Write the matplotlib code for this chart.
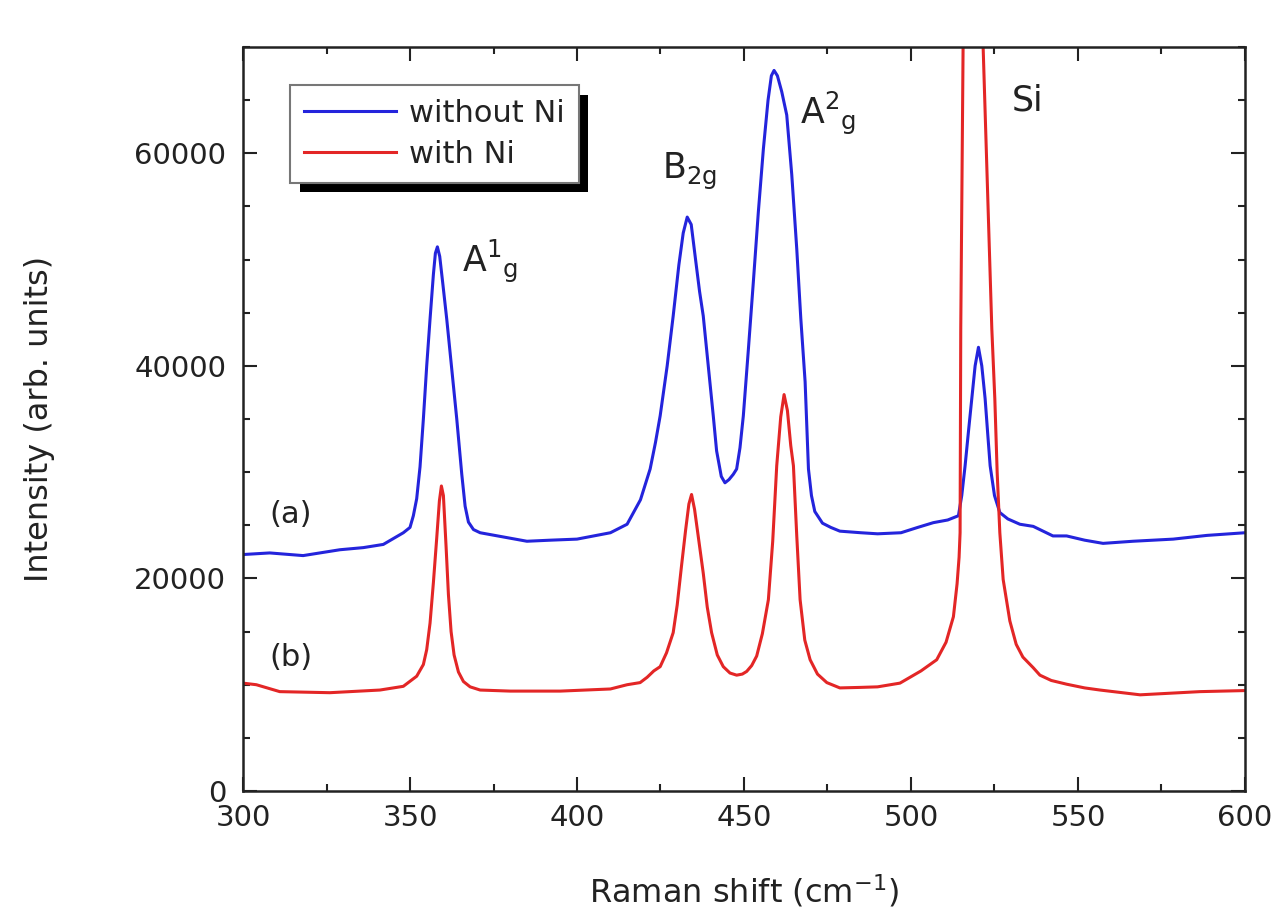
import matplotlib
matplotlib.use("Agg")
import matplotlib.pyplot as plt
import matplotlib.patheffects as pe
from matplotlib.ticker import MultipleLocator

plt.rcParams['font.family'] = ['DejaVu Sans']
plt.rcParams['mathtext.default'] = 'regular'

# Raman spectra (Raman shift cm^-1, intensity arb. units)
x_without = [300, 308, 318, 329, 336, 342, 348, 350, 351, 352, 353, 354, 355, 356, 357,
             357.6, 358.2, 358.9, 359.8, 361, 362.5, 364, 365.5, 366.5, 367.5, 369, 371,
             378, 385, 392, 400, 410, 415, 419, 421.9, 423.5, 424.9, 427, 428.8, 430.5,
             431.8, 433, 434.2, 435.5, 436.7, 437.8, 439.3, 440.8, 441.8, 443.2, 444.3,
             445.5, 446.8, 447.8, 448.8, 449.8, 451.3, 452.8, 454.3, 455.8, 457.2, 458.2,
             459, 460, 461.3, 462.8, 464.3, 465.8, 467, 468.3, 469.3, 470.2, 471.2, 473.5,
             476, 478.7, 485, 490, 497, 502, 506.7, 511, 514.2, 515.2, 516.2, 517.2,
             518.2, 519.2, 520.2, 521.2, 522.2, 523, 523.7, 525, 526.6, 529, 532.6, 536.6,
             542.5, 546.6, 552, 557.5, 566.5, 578.5, 588.6, 600]
y_without = [22250, 22400, 22150, 22700, 22900, 23200, 24300, 24800, 25900, 27500, 30500,
             35000, 40000, 44400, 48600, 50600, 51200, 50300, 47800, 44400, 39700, 35000,
             29800, 26800, 25300, 24600, 24300, 23900, 23500, 23600, 23700, 24300, 25100,
             27400, 30300, 32800, 35300, 40000, 44700, 49500, 52500, 54000, 53300, 50000,
             47000, 44700, 40000, 35300, 32000, 29600, 29000, 29300, 29800, 30300, 32300,
             35300, 41500, 47900, 54500, 60400, 65000, 67300, 67800, 67300, 65800, 63600,
             58000, 51000, 44500, 38500, 30300, 27800, 26300, 25200, 24800, 24450, 24300,
             24200, 24300, 24800, 25250, 25500, 25900, 27800, 30600, 33800, 36900, 40000,
             41750, 40000, 36900, 33500, 30600, 27800, 26200, 25600, 25100, 24900, 24000,
             24000, 23600, 23300, 23500, 23700, 24050, 24300]

x_with = [300, 304, 311, 326, 341, 348, 352, 354, 355, 356, 357, 358, 358.8, 359.4, 360,
          360.8, 361.5, 362.3, 363.2, 364.5, 366, 368, 371, 380, 395, 410, 415, 418.9,
          421, 423, 424.9, 426.8, 428.8, 430, 431.3, 432.5, 433.5, 434.3, 435.2, 436.5,
          437.8, 439, 440.3, 442, 443.8, 445.8, 447.8, 449.5, 450.8, 452.3, 453.8, 455.5,
          457.3, 458.6, 459.8, 461, 462, 463, 464, 464.8, 465.8, 466.8, 468.2, 469.8,
          472, 474.8, 478.7, 485, 490, 496.7, 503, 507.7, 510.5, 512.7, 513.8, 514.4,
          514.7, 514.9, 515.6, 518.5, 521.6, 524.2, 525.1, 525.8, 526.6, 527.6, 529.6,
          531.5, 533.5, 536.6, 538.6, 542, 546.6, 552, 556.6, 568.6, 586.5, 600]
y_with = [10150, 10000, 9350, 9250, 9500, 9850, 10800, 11900, 13300, 15800, 19600, 23800,
          27300, 28700, 27800, 23000, 18500, 15000, 12800, 11200, 10300, 9800, 9500, 9400,
          9400, 9600, 10000, 10200, 10700, 11300, 11700, 13000, 14900, 17500, 21200,
          24500, 27000, 27900, 26500, 23500, 20500, 17300, 14900, 12800, 11700, 11100,
          10900, 11000, 11250, 11800, 12700, 14800, 18000, 23500, 30600, 35200, 37300,
          35800, 32500, 30600, 24000, 18000, 14200, 12350, 11000, 10200, 9700, 9750, 9800,
          10150, 11300, 12350, 14000, 16400, 19500, 22000, 24300, 43500, 70000, 100000,
          70000, 43500, 36900, 30000, 24300, 19900, 16000, 13800, 12600, 11600, 10900,
          10400, 10050, 9700, 9500, 9050, 9350, 9450]

series_labels = ["without Ni", "with Ni"]
series_colors = ["#2424dc", "#e32626"]

fig = plt.figure(figsize=(12.79, 9.17), dpi=100)
ax = fig.add_axes([0.190, 0.1374, 0.7834, 0.8113])

ax.plot(x_without, y_without, color=series_colors[0], lw=2.2, label=series_labels[0])
ax.plot(x_with, y_with, color=series_colors[1], lw=2.2, label=series_labels[1])

ax.set_xlim(300, 600)
ax.set_ylim(0, 70000)
ax.xaxis.set_major_locator(MultipleLocator(50))
ax.xaxis.set_minor_locator(MultipleLocator(25))
ax.yaxis.set_major_locator(MultipleLocator(20000))
ax.yaxis.set_minor_locator(MultipleLocator(5000))
ax.tick_params(which='both', direction='in', top=True, right=True, width=1.5,
               color='#222222', labelsize=21, labelcolor='#222222')
ax.tick_params(which='major', length=10)
ax.tick_params(which='minor', length=5)
ax.tick_params(axis='x', pad=9)
ax.tick_params(axis='y', pad=12)
for s in ax.spines.values():
    s.set_linewidth(1.8)
    s.set_color('#222222')

ax.set_xlabel("Raman shift (cm$^{-1}$)", fontsize=23, color='#222222')
ax.set_ylabel("Intensity (arb. units)", fontsize=23, color='#222222')
ax.xaxis.set_label_coords(0.5, -0.11)
ax.yaxis.set_label_coords(-0.188, 0.5)

ann_kw = dict(fontsize=25, color='#222222', va='baseline', ha='left')
ax.text(365.6, 48850, "A$^{1}$$_{g}$", **ann_kw)
ax.text(425.4, 57600, "B$_{2g}$", **ann_kw)
ax.text(466.8, 62800, "A$^{2}$$_{g}$", **ann_kw)
ax.text(530.2, 64000, "Si", **ann_kw)
ax.text(308.0, 26000, "(a)", fontsize=22, color='#222222', va='center', ha='left')
ax.text(308.0, 12540, "(b)", fontsize=22, color='#222222', va='center', ha='left')

leg = ax.legend(loc='upper left', bbox_to_anchor=(0.047, 0.949), borderaxespad=0,
                fontsize=22, handlelength=3.0, handletextpad=0.45, labelspacing=0.4,
                borderpad=0.45, fancybox=False, framealpha=1, edgecolor='#777777')
leg.get_frame().set_linewidth(1.5)
leg.get_frame().set_path_effects([
    pe.SimplePatchShadow(offset=(7, -7), shadow_rgbFace='black', alpha=1.0),
    pe.Normal()])
for t in leg.get_texts():
    t.set_color('#222222')

fig.savefig("out.png", dpi=100)
